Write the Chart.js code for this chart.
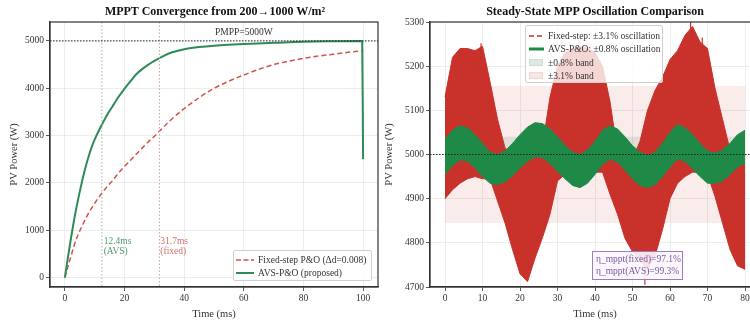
<!DOCTYPE html>
<html>
<head>
<meta charset="utf-8">
<script src="https://cdn.jsdelivr.net/npm/chart.js@4.4.1/dist/chart.umd.min.js"></script>
<style>
  body { margin: 0; width: 750px; height: 321px; overflow: hidden; position: relative; background: #fff; font-family: "Liberation Serif", "Times New Roman", serif; }
  .wrap { position: absolute; top: 0; height: 321px; }
  .title { position: absolute; top: 4px; font-weight: bold; font-size: 12px; color: #111; white-space: nowrap; transform: translateX(-50%); z-index: 3; }
  .box { position: absolute; z-index: 3; font-size: 9.5px; color: #333; }
  .leg { background: rgba(255,255,255,0.8); border: 1px solid #d0d0d0; border-radius: 2px; box-sizing: border-box; }
  .row { position: absolute; white-space: nowrap; line-height: 12px; height: 12px; }
  .smp { position: absolute; }
</style>
</head>
<body>
<div class="title" style="left:215px">MPPT Convergence from 200→1000 W/m²</div>
<div class="title" style="left:595px">Steady-State MPP Oscillation Comparison</div>

<div class="wrap" style="left:0;width:385px"><canvas id="convChart"></canvas></div>
<div class="wrap" style="left:375px;width:400px"><canvas id="ssChart"></canvas></div>

<!-- left legend -->
<div class="box leg" style="left:233px;top:250px;width:139px;height:31px">
  <svg class="smp" style="left:2px;top:6px" width="18" height="6"><line x1="0" y1="3" x2="18" y2="3" stroke="#d1534a" stroke-width="1.5" stroke-dasharray="5,2.5"/></svg>
  <div class="row" style="left:24px;top:3px">Fixed-step P&amp;O (Δd=0.008)</div>
  <svg class="smp" style="left:2px;top:19px" width="18" height="6"><line x1="0" y1="3" x2="18" y2="3" stroke="#2e8b57" stroke-width="2"/></svg>
  <div class="row" style="left:24px;top:16px">AVS-P&amp;O (proposed)</div>
</div>

<!-- right legend -->
<div class="box leg" style="left:525px;top:25px;width:138px;height:58px">
  <svg class="smp" style="left:3px;top:7px" width="15" height="6"><line x1="0" y1="3" x2="15" y2="3" stroke="#c8322a" stroke-width="1.5" stroke-dasharray="5,3"/></svg>
  <div class="row" style="left:22px;top:4px">Fixed-step: ±3.1% oscillation</div>
  <svg class="smp" style="left:3px;top:20px" width="15" height="6"><line x1="0" y1="3" x2="15" y2="3" stroke="#1f8a48" stroke-width="3"/></svg>
  <div class="row" style="left:22px;top:17px">AVS-P&amp;O: ±0.8% oscillation</div>
  <div class="smp" style="left:3px;top:33px;width:14px;height:7px;background:#dfe8e1;border:1px solid #d2ddd4;box-sizing:border-box"></div>
  <div class="row" style="left:22px;top:31px">±0.8% band</div>
  <div class="smp" style="left:3px;top:46px;width:14px;height:7px;background:#f8e6e5;border:1px solid #f0d8d7;box-sizing:border-box"></div>
  <div class="row" style="left:22px;top:44px">±3.1% band</div>
</div>

<!-- efficiency box -->
<div class="box" style="left:592px;top:251px;width:91px;height:29px;background:rgba(250,247,252,0.9);border:1px solid #9a7cc4;box-sizing:border-box;color:#7b58a6">
  <div class="row" style="left:3px;top:1px">η_mppt(fixed)=97.1%</div>
  <div class="row" style="left:3px;top:13px">η_mppt(AVS)=99.3%</div>
</div>

<script>
// ---- left plot: convergence after irradiance step ----
const fixedTime = [0,1,2,3,4,5,6,7,8,9,10,12,14,16,18,20,22,24,26,28,30,35,40,45,50,55,60,65,70,75,80,85,90,95,100];
const fixedPower = [0,230,440,660,840,990,1120,1250,1370,1470,1571,1750,1910,2050,2210,2350,2480,2610,2740,2870,2985,3300,3570,3800,4000,4150,4280,4400,4500,4570,4630,4680,4720,4760,4790];

const avsTime = [0,1,2,3,4,5,6,7,8,9,10,12,14,16,18,20,22,24,26,28,30,33,36,40,45,50,55,60,70,80,90,99.7,100];
const avsPower = [0,420,820,1190,1520,1820,2100,2350,2570,2760,2920,3180,3420,3620,3820,3990,4150,4300,4410,4500,4578,4680,4760,4826,4870,4900,4920,4935,4960,4985,4995,5000,2500];

const convXTicks = [0,20,40,60,80,100];
const convYTicks = [0,1000,2000,3000,4000,5000];

const pmpp = 5000;
const settleAvs = 12.4;
const settleFixed = 31.7;

// ---- right plot: steady state oscillation (envelopes) ----
const ssTime = [0,2,4,6,8,10,12,14,16,18,20,22,24,26,28,30,32,34,36,38,40,42,44,46,48,50,52,54,56,58,60,62,64,66,68,70,72,74,76,78,80];
const fixedUpper = [5130,5220,5240,5240,5235,5245,5165,5080,5015,5000,5000,5005,5010,5020,5130,5200,5230,5240,5245,5240,5230,5200,5120,5005,4990,4990,5030,5100,5145,5175,5215,5235,5270,5290,5255,5240,5150,5080,5010,4995,4990];
const fixedLower = [4900,4920,4935,4945,4950,4945,4945,4895,4845,4785,4730,4712,4765,4812,4865,4940,4955,4960,4960,4955,4960,4960,4910,4865,4810,4780,4760,4740,4770,4830,4900,4935,4950,4960,4960,4955,4905,4845,4785,4748,4740];
// single streaks that stick out of the red envelope
const spikeTime = [9.6,9.6,null,53.3,53.3,null,65.5,65.5,null,68.6,68.6];
const spikePower = [5200,5252,null,4760,4705,null,5250,5300,null,5200,5265];

const avsUpper = [5035,5055,5065,5060,5045,5025,5005,5000,5008,5025,5045,5062,5072,5070,5058,5040,5020,5005,5000,5010,5030,5055,5065,5058,5040,5020,5005,4998,5005,5025,5050,5068,5060,5045,5025,5008,5003,5010,5025,5045,5055];
const avsLower = [4955,4975,4988,4985,4970,4950,4935,4932,4938,4952,4970,4985,4995,4993,4980,4962,4945,4930,4925,4935,4955,4978,4990,4983,4965,4945,4930,4925,4932,4950,4972,4990,4985,4968,4950,4935,4935,4940,4955,4972,4980];

const bandTime = [0, 80];
const band31 = [4845, 5155];
const band08 = [4960, 5040];

const ssXTicks = [0,10,20,30,40,50,60,70,80];
const ssYTicks = [4700,4800,4900,5000,5100,5200,5300];

Chart.defaults.font.family = '"Liberation Serif", "Times New Roman", serif';
Chart.defaults.color = '#333';

function pts(xs, ys) {
  let last = 0;
  return xs.map((x, i) => {
    if (x !== null) last = x;
    return { x: last, y: ys[i] };
  });
}

// reference lines, annotations and the full axes frame
const refs = {
  id: 'refs',
  afterDatasetsDraw(chart, args, opts) {
    const { ctx, chartArea: a, scales: { x, y } } = chart;
    ctx.save();
    ctx.beginPath();
    ctx.rect(a.left, a.top, a.right - a.left, a.bottom - a.top);
    ctx.clip();
    (opts.v || []).forEach(l => {
      const px = x.getPixelForValue(l.value);
      ctx.beginPath();
      ctx.strokeStyle = l.color;
      ctx.lineWidth = 1;
      ctx.setLineDash([1.5, 2]);
      ctx.moveTo(px, a.top);
      ctx.lineTo(px, a.bottom);
      ctx.stroke();
    });
    (opts.h || []).forEach(l => {
      const py = y.getPixelForValue(l.value);
      ctx.beginPath();
      ctx.strokeStyle = l.color;
      ctx.lineWidth = 1;
      ctx.setLineDash([1.5, 1.5]);
      ctx.moveTo(a.left, py);
      ctx.lineTo(a.right, py);
      ctx.stroke();
    });
    ctx.setLineDash([]);
    (opts.texts || []).forEach(t => {
      ctx.font = '9.5px "Liberation Serif", serif';
      ctx.fillStyle = t.color;
      ctx.textAlign = t.align;
      ctx.textBaseline = 'middle';
      ctx.fillText(t.text, x.getPixelForValue(t.x), y.getPixelForValue(t.y));
    });
    ctx.restore();
    ctx.save();
    ctx.strokeStyle = '#333';
    ctx.lineWidth = 1.2;
    ctx.strokeRect(a.left, a.top, a.right - a.left, a.bottom - a.top);
    ctx.restore();
  }
};

function fixTicks(values) {
  return s => { s.ticks = values.map(v => ({ value: v })); };
}

function xAxis(min, max, ticks) {
  return {
    type: 'linear', min: min, max: max,
    afterBuildTicks: fixTicks(ticks),
    ticks: { autoSkip: false, maxRotation: 0, padding: 2, font: { size: 9.5 }, color: '#333', callback: v => String(v) },
    grid: { color: '#e8e8e8', lineWidth: 0.8, tickColor: '#333', tickLength: 4 },
    border: { color: '#333', width: 1.2 },
    title: { display: true, text: 'Time (ms)', font: { size: 10.5 }, color: '#333', padding: { top: 0, bottom: 0 } },
    afterFit: s => { s.height = 34; }
  };
}

function yAxis(min, max, ticks, w) {
  return {
    type: 'linear', min: min, max: max,
    afterBuildTicks: fixTicks(ticks),
    ticks: { autoSkip: false, padding: 2, font: { size: 9.5 }, color: '#333', callback: v => String(v) },
    grid: { color: '#e8e8e8', lineWidth: 0.8, tickColor: '#333', tickLength: 4 },
    border: { color: '#333', width: 1.2 },
    title: { display: true, text: 'PV Power (W)', font: { size: 10.5 }, color: '#333', padding: { top: 8, bottom: 0 } },
    afterFit: s => { s.width = w; }
  };
}

new Chart(document.getElementById('convChart'), {
  type: 'line',
  data: {
    datasets: [
      { label: 'Fixed-step P&O (Δd=0.008)', data: pts(fixedTime, fixedPower), borderColor: '#d1534a', borderWidth: 1.5, borderDash: [5, 3], pointRadius: 0, cubicInterpolationMode: 'monotone', fill: false, order: 2 },
      { label: 'AVS-P&O (proposed)', data: pts(avsTime, avsPower), borderColor: '#2e8b57', borderWidth: 2, pointRadius: 0, cubicInterpolationMode: 'monotone', fill: false, order: 1 }
    ]
  },
  options: {
    responsive: true, maintainAspectRatio: false, animation: false,
    layout: { padding: { top: 22, right: 7, bottom: 0, left: 0 } },
    plugins: {
      legend: { display: false }, tooltip: { enabled: false },
      refs: {
        h: [{ value: pmpp, color: '#222' }],
        v: [{ value: settleAvs, color: '#9bb8a4' }, { value: settleFixed, color: '#c9a3a0' }],
        texts: [
          { text: 'PMPP=5000W', x: 60, y: 5170, color: '#333', align: 'center' },
          { text: '12.4ms', x: settleAvs + 0.6, y: 760, color: '#4d9a6c', align: 'left' },
          { text: '(AVS)', x: settleAvs + 0.6, y: 545, color: '#4d9a6c', align: 'left' },
          { text: '31.7ms', x: settleFixed + 0.3, y: 760, color: '#d0706a', align: 'left' },
          { text: '(fixed)', x: settleFixed + 0.3, y: 545, color: '#d0706a', align: 'left' }
        ]
      }
    },
    scales: { x: xAxis(-5, 105, convXTicks), y: yAxis(-200, 5400, convYTicks, 50) }
  },
  plugins: [refs]
});

new Chart(document.getElementById('ssChart'), {
  type: 'line',
  data: {
    datasets: [
      { label: '±3.1% band', data: pts(bandTime, [band31[1], band31[1]]), borderWidth: 0, pointRadius: 0, fill: 1, backgroundColor: 'rgba(214,69,65,0.1)', order: 9 },
      { label: 'band31 low', data: pts(bandTime, [band31[0], band31[0]]), borderWidth: 0, pointRadius: 0, fill: false, order: 9 },
      { label: '±0.8% band', data: pts(bandTime, [band08[1], band08[1]]), borderWidth: 0, pointRadius: 0, fill: 3, backgroundColor: 'rgba(40,110,70,0.13)', order: 8 },
      { label: 'band08 low', data: pts(bandTime, [band08[0], band08[0]]), borderWidth: 0, pointRadius: 0, fill: false, order: 8 },
      { label: 'Fixed-step: ±3.1% oscillation', data: pts(ssTime, fixedUpper), borderColor: '#c8322a', borderWidth: 1, pointRadius: 0, fill: 5, backgroundColor: '#c8322a', order: 4 },
      { label: 'fixed low', data: pts(ssTime, fixedLower), borderColor: '#c8322a', borderWidth: 1, pointRadius: 0, fill: false, order: 4 },
      { label: 'AVS-P&O: ±0.8% oscillation', data: pts(ssTime, avsUpper), borderColor: '#1f8a48', borderWidth: 1, pointRadius: 0, fill: 7, backgroundColor: '#1f8a48', order: 2 },
      { label: 'avs low', data: pts(ssTime, avsLower), borderColor: '#1f8a48', borderWidth: 1, pointRadius: 0, fill: false, order: 2 },
      { label: 'fixed streaks', data: pts(spikeTime, spikePower), borderColor: '#c8322a', borderWidth: 1.2, pointRadius: 0, fill: false, spanGaps: false, order: 3 }
    ]
  },
  options: {
    responsive: true, maintainAspectRatio: false, animation: false,
    layout: { padding: { top: 22, right: 15, bottom: 0, left: 0 } },
    plugins: {
      legend: { display: false }, tooltip: { enabled: false },
      refs: { h: [{ value: pmpp, color: '#222' }] }
    },
    scales: { x: xAxis(-4, 84, ssXTicks), y: yAxis(4700, 5300, ssYTicks, 55) }
  },
  plugins: [refs]
});
</script>
</body>
</html>
